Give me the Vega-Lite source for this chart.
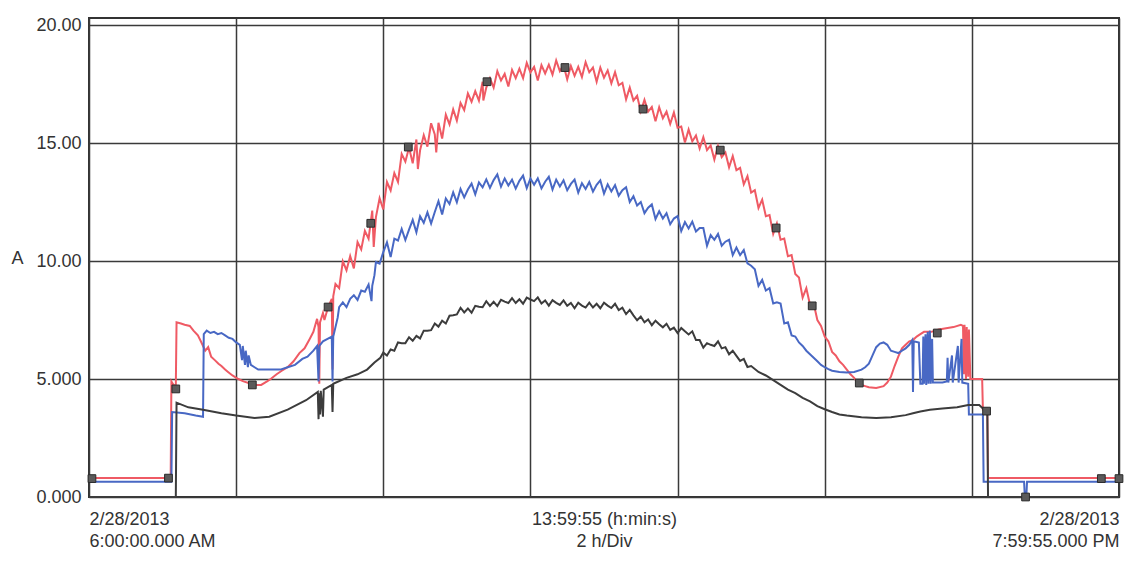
{
"$schema": "https://vega.github.io/schema/vega-lite/v6.json",
"width": 1030,
"height": 479,
"autosize": "none",
"padding": {"left": 89, "top": 18, "right": 5, "bottom": 66},
"background": "white",
"config": {"view": {"stroke": "#333333", "strokeWidth": 2}, "font": "Liberation Sans"},
"datasets": {
"lines": [
{"h":6.0,"v":0.8,"s":"L1"},{"h":7.11,"v":0.8,"s":"L1"},{"h":7.12,"v":4.9,"s":"L1"},{"h":7.15,"v":4.75,"s":"L1"},{"h":7.18,"v":4.7,"s":"L1"},{"h":7.19,"v":7.4,"s":"L1"},{"h":7.25,"v":7.35,"s":"L1"},{"h":7.3,"v":7.3,"s":"L1"},{"h":7.37,"v":7.25,"s":"L1"},{"h":7.42,"v":7.05,"s":"L1"},{"h":7.48,"v":6.85,"s":"L1"},{"h":7.52,"v":6.6,"s":"L1"},{"h":7.58,"v":6.2,"s":"L1"},{"h":7.62,"v":6.35,"s":"L1"},{"h":7.66,"v":5.95,"s":"L1"},{"h":7.71,"v":5.8,"s":"L1"},{"h":7.76,"v":5.65,"s":"L1"},{"h":7.8,"v":5.55,"s":"L1"},{"h":7.85,"v":5.4,"s":"L1"},{"h":7.89,"v":5.3,"s":"L1"},{"h":7.95,"v":5.15,"s":"L1"},{"h":8.03,"v":5.0,"s":"L1"},{"h":8.1,"v":4.9,"s":"L1"},{"h":8.2,"v":4.8,"s":"L1"},{"h":8.28,"v":4.75,"s":"L1"},{"h":8.34,"v":4.75,"s":"L1"},{"h":8.42,"v":4.9,"s":"L1"},{"h":8.47,"v":5.0,"s":"L1"},{"h":8.55,"v":5.2,"s":"L1"},{"h":8.62,"v":5.35,"s":"L1"},{"h":8.7,"v":5.5,"s":"L1"},{"h":8.78,"v":5.75,"s":"L1"},{"h":8.86,"v":6.1,"s":"L1"},{"h":8.93,"v":6.3,"s":"L1"},{"h":9.0,"v":6.7,"s":"L1"},{"h":9.05,"v":7.0,"s":"L1"},{"h":9.1,"v":7.55,"s":"L1"},{"h":9.12,"v":7.2,"s":"L1"},{"h":9.13,"v":4.8,"s":"L1"},{"h":9.14,"v":7.4,"s":"L1"},{"h":9.18,"v":7.8,"s":"L1"},{"h":9.2,"v":7.5,"s":"L1"},{"h":9.25,"v":8.05,"s":"L1"},{"h":9.3,"v":8.4,"s":"L1"},{"h":9.31,"v":5.4,"s":"L1"},{"h":9.32,"v":8.5,"s":"L1"},
{"h":9.35,"v":9.03,"s":"L1"},{"h":9.4,"v":8.85,"s":"L1"},{"h":9.45,"v":9.99,"s":"L1"},{"h":9.5,"v":9.61,"s":"L1"},{"h":9.55,"v":10.21,"s":"L1"},{"h":9.6,"v":9.69,"s":"L1"},{"h":9.65,"v":10.8,"s":"L1"},{"h":9.7,"v":10.49,"s":"L1"},{"h":9.75,"v":11.28,"s":"L1"},{"h":9.8,"v":10.95,"s":"L1"},{"h":9.85,"v":12.14,"s":"L1"},{"h":9.87,"v":10.6,"s":"L1"},{"h":9.9,"v":11.86,"s":"L1"},{"h":9.95,"v":12.66,"s":"L1"},{"h":10.0,"v":12.19,"s":"L1"},{"h":10.05,"v":13.35,"s":"L1"},{"h":10.1,"v":12.99,"s":"L1"},{"h":10.15,"v":13.73,"s":"L1"},{"h":10.2,"v":13.35,"s":"L1"},{"h":10.25,"v":14.54,"s":"L1"},{"h":10.3,"v":14.21,"s":"L1"},{"h":10.35,"v":14.81,"s":"L1"},{"h":10.4,"v":14.14,"s":"L1"},{"h":10.45,"v":15.15,"s":"L1"},{"h":10.47,"v":13.9,"s":"L1"},{"h":10.5,"v":14.69,"s":"L1"},{"h":10.55,"v":15.33,"s":"L1"},{"h":10.6,"v":14.85,"s":"L1"},{"h":10.65,"v":15.84,"s":"L1"},{"h":10.7,"v":15.36,"s":"L1"},{"h":10.72,"v":14.6,"s":"L1"},{"h":10.75,"v":15.86,"s":"L1"},{"h":10.8,"v":15.19,"s":"L1"},{"h":10.85,"v":16.2,"s":"L1"},{"h":10.9,"v":15.79,"s":"L1"},{"h":10.95,"v":16.43,"s":"L1"},{"h":11.0,"v":15.95,"s":"L1"},
{"h":11.05,"v":16.7,"s":"L1"},{"h":11.1,"v":16.4,"s":"L1"},{"h":11.15,"v":17.1,"s":"L1"},{"h":11.2,"v":16.75,"s":"L1"},{"h":11.25,"v":17.2,"s":"L1"},{"h":11.3,"v":16.8,"s":"L1"},{"h":11.35,"v":17.6,"s":"L1"},{"h":11.36,"v":16.8,"s":"L1"},{"h":11.4,"v":17.35,"s":"L1"},{"h":11.45,"v":17.75,"s":"L1"},{"h":11.5,"v":17.35,"s":"L1"},{"h":11.55,"v":18.05,"s":"L1"},{"h":11.6,"v":17.65,"s":"L1"},{"h":11.65,"v":17.93,"s":"L1"},{"h":11.7,"v":17.4,"s":"L1"},{"h":11.75,"v":18.1,"s":"L1"},{"h":11.8,"v":17.75,"s":"L1"},{"h":11.85,"v":18.15,"s":"L1"},{"h":11.9,"v":17.75,"s":"L1"},{"h":11.95,"v":18.4,"s":"L1"},{"h":12.0,"v":18.0,"s":"L1"},{"h":12.05,"v":18.23,"s":"L1"},{"h":12.1,"v":17.65,"s":"L1"},{"h":12.15,"v":18.3,"s":"L1"},{"h":12.2,"v":17.95,"s":"L1"},{"h":12.25,"v":18.32,"s":"L1"},{"h":12.3,"v":17.9,"s":"L1"},{"h":12.35,"v":18.5,"s":"L1"},{"h":12.4,"v":18.05,"s":"L1"},{"h":12.45,"v":18.3,"s":"L1"},{"h":12.5,"v":17.7,"s":"L1"},{"h":12.55,"v":18.27,"s":"L1"},{"h":12.6,"v":17.85,"s":"L1"},{"h":12.65,"v":18.23,"s":"L1"},{"h":12.7,"v":17.8,"s":"L1"},{"h":12.75,"v":18.43,"s":"L1"},{"h":12.8,"v":18.0,"s":"L1"},{"h":12.85,"v":18.2,"s":"L1"},{"h":12.9,"v":17.6,"s":"L1"},{"h":12.95,"v":18.2,"s":"L1"},{"h":13.0,"v":17.77,"s":"L1"},{"h":13.05,"v":18.08,"s":"L1"},{"h":13.1,"v":17.53,"s":"L1"},{"h":13.15,"v":18.0,"s":"L1"},{"h":13.2,"v":17.45,"s":"L1"},{"h":13.25,"v":17.55,"s":"L1"},{"h":13.3,"v":16.85,"s":"L1"},{"h":13.35,"v":17.35,"s":"L1"},{"h":13.4,"v":16.8,"s":"L1"},{"h":13.45,"v":17.0,"s":"L1"},{"h":13.5,"v":16.35,"s":"L1"},{"h":13.55,"v":16.83,"s":"L1"},{"h":13.6,"v":16.33,"s":"L1"},{"h":13.65,"v":16.53,"s":"L1"},{"h":13.7,"v":15.92,"s":"L1"},{"h":13.75,"v":16.52,"s":"L1"},{"h":13.8,"v":16.05,"s":"L1"},{"h":13.85,"v":16.33,"s":"L1"},{"h":13.9,"v":15.81,"s":"L1"},{"h":13.95,"v":16.3,"s":"L1"},{"h":14.0,"v":15.65,"s":"L1"},{"h":14.05,"v":15.7,"s":"L1"},{"h":14.1,"v":15.02,"s":"L1"},{"h":14.15,"v":15.57,"s":"L1"},{"h":14.2,"v":15.07,"s":"L1"},{"h":14.25,"v":15.32,"s":"L1"},{"h":14.3,"v":14.77,"s":"L1"},{"h":14.35,"v":15.25,"s":"L1"},{"h":14.4,"v":14.7,"s":"L1"},{"h":14.45,"v":14.9,"s":"L1"},{"h":14.5,"v":14.3,"s":"L1"},{"h":14.55,"v":14.88,"s":"L1"},{"h":14.6,"v":14.4,"s":"L1"},{"h":14.65,"v":14.6,"s":"L1"},{"h":14.7,"v":13.97,"s":"L1"},{"h":14.75,"v":14.45,"s":"L1"},{"h":14.8,"v":13.85,"s":"L1"},{"h":14.85,"v":13.95,"s":"L1"},{"h":14.9,"v":13.25,"s":"L1"},{"h":14.95,"v":13.6,"s":"L1"},{"h":15.0,"v":12.9,"s":"L1"},{"h":15.05,"v":13.0,"s":"L1"},{"h":15.1,"v":12.25,"s":"L1"},{"h":15.15,"v":12.6,"s":"L1"},{"h":15.2,"v":11.9,"s":"L1"},{"h":15.25,"v":11.95,"s":"L1"},{"h":15.3,"v":11.15,"s":"L1"},{"h":15.35,"v":11.6,"s":"L1"},{"h":15.4,"v":10.9,"s":"L1"},{"h":15.45,"v":10.95,"s":"L1"},{"h":15.5,"v":10.2,"s":"L1"},{"h":15.55,"v":10.25,"s":"L1"},{"h":15.6,"v":9.45,"s":"L1"},{"h":15.65,"v":9.3,"s":"L1"},{"h":15.7,"v":8.45,"s":"L1"},{"h":15.75,"v":8.85,"s":"L1"},{"h":15.8,"v":8.15,"s":"L1"},{"h":15.85,"v":8.2,"s":"L1"},
{"h":15.9,"v":7.5,"s":"L1"},{"h":15.95,"v":7.25,"s":"L1"},{"h":16.0,"v":6.8,"s":"L1"},{"h":16.05,"v":6.6,"s":"L1"},{"h":16.1,"v":6.15,"s":"L1"},{"h":16.15,"v":6.0,"s":"L1"},{"h":16.2,"v":5.75,"s":"L1"},{"h":16.25,"v":5.6,"s":"L1"},{"h":16.3,"v":5.4,"s":"L1"},{"h":16.35,"v":5.2,"s":"L1"},{"h":16.4,"v":5.05,"s":"L1"},{"h":16.45,"v":4.85,"s":"L1"},{"h":16.5,"v":4.75,"s":"L1"},{"h":16.55,"v":4.7,"s":"L1"},{"h":16.6,"v":4.65,"s":"L1"},{"h":16.7,"v":4.62,"s":"L1"},{"h":16.8,"v":4.7,"s":"L1"},{"h":16.85,"v":4.85,"s":"L1"},{"h":16.9,"v":5.1,"s":"L1"},{"h":16.95,"v":5.55,"s":"L1"},{"h":17.0,"v":5.95,"s":"L1"},{"h":17.05,"v":6.3,"s":"L1"},{"h":17.1,"v":6.45,"s":"L1"},{"h":17.15,"v":6.6,"s":"L1"},{"h":17.2,"v":6.65,"s":"L1"},{"h":17.25,"v":6.8,"s":"L1"},{"h":17.3,"v":6.9,"s":"L1"},{"h":17.35,"v":7.0,"s":"L1"},{"h":17.45,"v":7.0,"s":"L1"},{"h":17.55,"v":7.1,"s":"L1"},{"h":17.65,"v":7.15,"s":"L1"},{"h":17.75,"v":7.2,"s":"L1"},{"h":17.85,"v":7.3,"s":"L1"},{"h":17.88,"v":7.25,"s":"L1"},{"h":17.89,"v":5.2,"s":"L1"},{"h":17.9,"v":7.3,"s":"L1"},{"h":17.92,"v":5.0,"s":"L1"},{"h":17.93,"v":7.2,"s":"L1"},{"h":17.95,"v":5.1,"s":"L1"},{"h":17.96,"v":7.1,"s":"L1"},{"h":17.98,"v":5.0,"s":"L1"},{"h":18.14,"v":5.0,"s":"L1"},{"h":18.15,"v":3.7,"s":"L1"},{"h":18.21,"v":3.65,"s":"L1"},{"h":18.22,"v":0.8,"s":"L1"},{"h":20.0,"v":0.8,"s":"L1"},

{"h":6.0,"v":0.65,"s":"L2"},{"h":7.12,"v":0.65,"s":"L2"},{"h":7.13,"v":3.6,"s":"L2"},{"h":7.3,"v":3.55,"s":"L2"},{"h":7.45,"v":3.45,"s":"L2"},{"h":7.55,"v":3.4,"s":"L2"},{"h":7.56,"v":6.9,"s":"L2"},{"h":7.6,"v":7.05,"s":"L2"},{"h":7.65,"v":6.95,"s":"L2"},{"h":7.7,"v":7.0,"s":"L2"},{"h":7.75,"v":6.9,"s":"L2"},{"h":7.8,"v":6.95,"s":"L2"},{"h":7.85,"v":6.85,"s":"L2"},{"h":7.9,"v":6.75,"s":"L2"},{"h":7.95,"v":6.7,"s":"L2"},{"h":8.0,"v":6.55,"s":"L2"},{"h":8.05,"v":6.45,"s":"L2"},{"h":8.08,"v":5.8,"s":"L2"},{"h":8.09,"v":6.4,"s":"L2"},{"h":8.12,"v":5.6,"s":"L2"},{"h":8.13,"v":6.2,"s":"L2"},{"h":8.16,"v":5.5,"s":"L2"},{"h":8.17,"v":6.0,"s":"L2"},{"h":8.2,"v":5.6,"s":"L2"},{"h":8.25,"v":5.5,"s":"L2"},{"h":8.3,"v":5.4,"s":"L2"},{"h":8.4,"v":5.4,"s":"L2"},{"h":8.5,"v":5.4,"s":"L2"},{"h":8.6,"v":5.4,"s":"L2"},{"h":8.7,"v":5.5,"s":"L2"},{"h":8.8,"v":5.6,"s":"L2"},{"h":8.9,"v":5.85,"s":"L2"},{"h":8.97,"v":5.95,"s":"L2"},{"h":9.05,"v":6.2,"s":"L2"},{"h":9.1,"v":6.4,"s":"L2"},{"h":9.12,"v":4.9,"s":"L2"},{"h":9.13,"v":6.4,"s":"L2"},{"h":9.18,"v":6.6,"s":"L2"},{"h":9.3,"v":6.8,"s":"L2"},{"h":9.31,"v":4.9,"s":"L2"},{"h":9.32,"v":6.8,"s":"L2"},{"h":9.38,"v":7.6,"s":"L2"},{"h":9.4,"v":8.05,"s":"L2"},{"h":9.45,"v":8.25,"s":"L2"},{"h":9.5,"v":8.05,"s":"L2"},{"h":9.55,"v":8.4,"s":"L2"},{"h":9.6,"v":8.55,"s":"L2"},{"h":9.65,"v":8.35,"s":"L2"},{"h":9.7,"v":8.75,"s":"L2"},{"h":9.75,"v":8.7,"s":"L2"},{"h":9.8,"v":9.0,"s":"L2"},{"h":9.84,"v":8.3,"s":"L2"},{"h":9.85,"v":8.95,"s":"L2"},{"h":9.88,"v":9.4,"s":"L2"},
{"h":9.9,"v":9.96,"s":"L2"},{"h":9.95,"v":9.89,"s":"L2"},{"h":10.0,"v":10.38,"s":"L2"},{"h":10.05,"v":10.79,"s":"L2"},{"h":10.1,"v":10.17,"s":"L2"},{"h":10.15,"v":10.95,"s":"L2"},{"h":10.2,"v":10.87,"s":"L2"},{"h":10.25,"v":11.36,"s":"L2"},{"h":10.3,"v":10.89,"s":"L2"},{"h":10.35,"v":11.33,"s":"L2"},{"h":10.4,"v":11.74,"s":"L2"},{"h":10.45,"v":11.22,"s":"L2"},{"h":10.5,"v":11.9,"s":"L2"},{"h":10.55,"v":11.62,"s":"L2"},{"h":10.6,"v":12.06,"s":"L2"},{"h":10.65,"v":11.59,"s":"L2"},{"h":10.7,"v":12.08,"s":"L2"},{"h":10.75,"v":12.54,"s":"L2"},{"h":10.8,"v":11.97,"s":"L2"},{"h":10.85,"v":12.65,"s":"L2"},{"h":10.9,"v":12.42,"s":"L2"},{"h":10.95,"v":12.91,"s":"L2"},{"h":11.0,"v":12.49,"s":"L2"},{"h":11.05,"v":13.05,"s":"L2"},{"h":11.1,"v":12.7,"s":"L2"},{"h":11.15,"v":13.03,"s":"L2"},{"h":11.2,"v":13.28,"s":"L2"},{"h":11.25,"v":12.83,"s":"L2"},{"h":11.3,"v":13.33,"s":"L2"},{"h":11.35,"v":13.12,"s":"L2"},{"h":11.4,"v":13.46,"s":"L2"},{"h":11.45,"v":13.1,"s":"L2"},{"h":11.5,"v":13.43,"s":"L2"},{"h":11.55,"v":13.67,"s":"L2"},{"h":11.6,"v":13.15,"s":"L2"},{"h":11.65,"v":13.5,"s":"L2"},{"h":11.7,"v":13.2,"s":"L2"},{"h":11.75,"v":13.45,"s":"L2"},{"h":11.8,"v":13.07,"s":"L2"},{"h":11.85,"v":13.4,"s":"L2"},{"h":11.9,"v":13.62,"s":"L2"},{"h":11.95,"v":13.09,"s":"L2"},{"h":12.0,"v":13.5,"s":"L2"},{"h":12.05,"v":13.23,"s":"L2"},{"h":12.1,"v":13.5,"s":"L2"},{"h":12.15,"v":13.08,"s":"L2"},{"h":12.2,"v":13.36,"s":"L2"},{"h":12.25,"v":13.57,"s":"L2"},{"h":12.3,"v":13.03,"s":"L2"},{"h":12.35,"v":13.45,"s":"L2"},{"h":12.4,"v":13.16,"s":"L2"},{"h":12.45,"v":13.42,"s":"L2"},{"h":12.5,"v":13.0,"s":"L2"},{"h":12.55,"v":13.27,"s":"L2"},{"h":12.6,"v":13.45,"s":"L2"},{"h":12.65,"v":12.9,"s":"L2"},{"h":12.7,"v":13.3,"s":"L2"},{"h":12.75,"v":13.05,"s":"L2"},{"h":12.8,"v":13.35,"s":"L2"},{"h":12.85,"v":12.94,"s":"L2"},{"h":12.9,"v":13.23,"s":"L2"},{"h":12.95,"v":13.42,"s":"L2"},{"h":13.0,"v":12.86,"s":"L2"},{"h":13.05,"v":13.25,"s":"L2"},{"h":13.1,"v":12.95,"s":"L2"},{"h":13.15,"v":13.22,"s":"L2"},{"h":13.2,"v":12.77,"s":"L2"},{"h":13.25,"v":13.0,"s":"L2"},{"h":13.3,"v":13.13,"s":"L2"},{"h":13.35,"v":12.5,"s":"L2"},{"h":13.4,"v":12.75,"s":"L2"},{"h":13.45,"v":12.35,"s":"L2"},{"h":13.5,"v":12.5,"s":"L2"},{"h":13.55,"v":12.03,"s":"L2"},{"h":13.6,"v":12.26,"s":"L2"},{"h":13.65,"v":12.4,"s":"L2"},{"h":13.7,"v":11.78,"s":"L2"},{"h":13.75,"v":12.11,"s":"L2"},{"h":13.8,"v":11.8,"s":"L2"},{"h":13.85,"v":12.03,"s":"L2"},{"h":13.9,"v":11.56,"s":"L2"},{"h":13.95,"v":11.8,"s":"L2"},{"h":14.0,"v":11.9,"s":"L2"},{"h":14.05,"v":11.27,"s":"L2"},{"h":14.1,"v":11.65,"s":"L2"},{"h":14.15,"v":11.38,"s":"L2"},{"h":14.2,"v":11.67,"s":"L2"},{"h":14.25,"v":11.25,"s":"L2"},{"h":14.3,"v":11.4,"s":"L2"},{"h":14.35,"v":11.4,"s":"L2"},{"h":14.4,"v":10.65,"s":"L2"},{"h":14.45,"v":11.1,"s":"L2"},{"h":14.5,"v":10.9,"s":"L2"},{"h":14.55,"v":11.15,"s":"L2"},{"h":14.6,"v":10.65,"s":"L2"},{"h":14.65,"v":10.82,"s":"L2"},{"h":14.7,"v":10.9,"s":"L2"},{"h":14.75,"v":10.25,"s":"L2"},{"h":14.8,"v":10.57,"s":"L2"},{"h":14.85,"v":10.25,"s":"L2"},{"h":14.9,"v":10.47,"s":"L2"},{"h":14.95,"v":9.9,"s":"L2"},{"h":15.0,"v":9.8,"s":"L2"},{"h":15.05,"v":9.65,"s":"L2"},{"h":15.1,"v":8.95,"s":"L2"},{"h":15.15,"v":9.2,"s":"L2"},{"h":15.2,"v":8.75,"s":"L2"},{"h":15.25,"v":8.85,"s":"L2"},{"h":15.3,"v":8.2,"s":"L2"},{"h":15.35,"v":8.25,"s":"L2"},{"h":15.4,"v":8.2,"s":"L2"},{"h":15.45,"v":7.35,"s":"L2"},{"h":15.5,"v":7.4,"s":"L2"},{"h":15.55,"v":6.85,"s":"L2"},{"h":15.6,"v":6.8,"s":"L2"},
{"h":15.65,"v":6.55,"s":"L2"},{"h":15.7,"v":6.4,"s":"L2"},{"h":15.75,"v":6.2,"s":"L2"},{"h":15.8,"v":6.05,"s":"L2"},{"h":15.85,"v":5.9,"s":"L2"},{"h":15.9,"v":5.75,"s":"L2"},{"h":15.95,"v":5.6,"s":"L2"},{"h":16.0,"v":5.5,"s":"L2"},{"h":16.05,"v":5.42,"s":"L2"},{"h":16.1,"v":5.35,"s":"L2"},{"h":16.2,"v":5.3,"s":"L2"},{"h":16.3,"v":5.28,"s":"L2"},{"h":16.4,"v":5.3,"s":"L2"},{"h":16.5,"v":5.4,"s":"L2"},{"h":16.55,"v":5.5,"s":"L2"},{"h":16.6,"v":5.65,"s":"L2"},{"h":16.65,"v":6.0,"s":"L2"},{"h":16.7,"v":6.35,"s":"L2"},{"h":16.75,"v":6.5,"s":"L2"},{"h":16.8,"v":6.55,"s":"L2"},{"h":16.85,"v":6.45,"s":"L2"},{"h":16.9,"v":6.2,"s":"L2"},{"h":16.95,"v":6.15,"s":"L2"},{"h":17.0,"v":6.1,"s":"L2"},{"h":17.05,"v":6.2,"s":"L2"},{"h":17.1,"v":6.3,"s":"L2"},{"h":17.15,"v":6.45,"s":"L2"},{"h":17.19,"v":6.65,"s":"L2"},{"h":17.2,"v":4.45,"s":"L2"},{"h":17.21,"v":6.6,"s":"L2"},{"h":17.28,"v":6.55,"s":"L2"},{"h":17.3,"v":4.8,"s":"L2"},{"h":17.33,"v":4.8,"s":"L2"},{"h":17.34,"v":6.8,"s":"L2"},{"h":17.35,"v":4.8,"s":"L2"},{"h":17.37,"v":6.9,"s":"L2"},{"h":17.38,"v":4.75,"s":"L2"},{"h":17.4,"v":7.0,"s":"L2"},{"h":17.41,"v":4.8,"s":"L2"},{"h":17.43,"v":7.05,"s":"L2"},{"h":17.44,"v":4.8,"s":"L2"},{"h":17.46,"v":6.7,"s":"L2"},{"h":17.47,"v":4.85,"s":"L2"},{"h":17.6,"v":4.85,"s":"L2"},{"h":17.66,"v":4.9,"s":"L2"},{"h":17.67,"v":5.9,"s":"L2"},{"h":17.68,"v":4.85,"s":"L2"},{"h":17.73,"v":6.0,"s":"L2"},{"h":17.74,"v":4.85,"s":"L2"},{"h":17.81,"v":6.4,"s":"L2"},{"h":17.82,"v":4.85,"s":"L2"},{"h":17.86,"v":6.7,"s":"L2"},{"h":17.87,"v":4.85,"s":"L2"},{"h":17.95,"v":4.8,"s":"L2"},{"h":17.96,"v":3.5,"s":"L2"},{"h":18.15,"v":3.5,"s":"L2"},{"h":18.16,"v":0.65,"s":"L2"},{"h":18.71,"v":0.65,"s":"L2"},{"h":18.72,"v":0.0,"s":"L2"},{"h":18.74,"v":0.0,"s":"L2"},{"h":18.75,"v":0.65,"s":"L2"},{"h":20.0,"v":0.65,"s":"L2"},

{"h":6.0,"v":0.0,"s":"L3"},{"h":7.18,"v":0.0,"s":"L3"},{"h":7.19,"v":4.0,"s":"L3"},{"h":7.35,"v":3.8,"s":"L3"},{"h":7.55,"v":3.7,"s":"L3"},{"h":7.8,"v":3.55,"s":"L3"},{"h":8.0,"v":3.45,"s":"L3"},{"h":8.25,"v":3.35,"s":"L3"},{"h":8.45,"v":3.4,"s":"L3"},{"h":8.7,"v":3.7,"s":"L3"},{"h":8.95,"v":4.1,"s":"L3"},{"h":9.11,"v":4.45,"s":"L3"},{"h":9.12,"v":3.3,"s":"L3"},{"h":9.13,"v":4.4,"s":"L3"},{"h":9.14,"v":3.5,"s":"L3"},{"h":9.15,"v":4.5,"s":"L3"},{"h":9.18,"v":3.4,"s":"L3"},{"h":9.19,"v":4.55,"s":"L3"},{"h":9.3,"v":4.75,"s":"L3"},{"h":9.31,"v":3.6,"s":"L3"},{"h":9.32,"v":4.8,"s":"L3"},{"h":9.5,"v":5.05,"s":"L3"},{"h":9.65,"v":5.2,"s":"L3"},{"h":9.78,"v":5.4,"s":"L3"},{"h":9.88,"v":5.7,"s":"L3"},{"h":9.96,"v":5.9,"s":"L3"},
{"h":10.0,"v":6.12,"s":"L3"},{"h":10.05,"v":6.0,"s":"L3"},{"h":10.1,"v":6.25,"s":"L3"},{"h":10.15,"v":6.2,"s":"L3"},{"h":10.2,"v":6.55,"s":"L3"},{"h":10.25,"v":6.52,"s":"L3"},{"h":10.3,"v":6.52,"s":"L3"},{"h":10.35,"v":6.77,"s":"L3"},{"h":10.4,"v":6.62,"s":"L3"},{"h":10.45,"v":6.83,"s":"L3"},{"h":10.5,"v":6.72,"s":"L3"},{"h":10.55,"v":7.05,"s":"L3"},{"h":10.6,"v":7.05,"s":"L3"},{"h":10.65,"v":7.07,"s":"L3"},{"h":10.7,"v":7.35,"s":"L3"},{"h":10.75,"v":7.22,"s":"L3"},{"h":10.8,"v":7.47,"s":"L3"},{"h":10.85,"v":7.35,"s":"L3"},{"h":10.9,"v":7.68,"s":"L3"},{"h":10.95,"v":7.7,"s":"L3"},{"h":11.0,"v":7.74,"s":"L3"},{"h":11.05,"v":8.02,"s":"L3"},{"h":11.1,"v":7.82,"s":"L3"},{"h":11.15,"v":7.99,"s":"L3"},{"h":11.2,"v":7.81,"s":"L3"},{"h":11.25,"v":8.1,"s":"L3"},{"h":11.3,"v":8.06,"s":"L3"},{"h":11.35,"v":8.04,"s":"L3"},{"h":11.4,"v":8.3,"s":"L3"},{"h":11.45,"v":8.1,"s":"L3"},{"h":11.5,"v":8.27,"s":"L3"},{"h":11.55,"v":8.09,"s":"L3"},{"h":11.6,"v":8.36,"s":"L3"},{"h":11.65,"v":8.28,"s":"L3"},{"h":11.7,"v":8.22,"s":"L3"},{"h":11.75,"v":8.43,"s":"L3"},{"h":11.8,"v":8.22,"s":"L3"},{"h":11.85,"v":8.38,"s":"L3"},{"h":11.9,"v":8.19,"s":"L3"},{"h":11.95,"v":8.45,"s":"L3"},{"h":12.0,"v":8.37,"s":"L3"},{"h":12.05,"v":8.3,"s":"L3"},{"h":12.1,"v":8.46,"s":"L3"},{"h":12.15,"v":8.2,"s":"L3"},{"h":12.2,"v":8.33,"s":"L3"},{"h":12.25,"v":8.11,"s":"L3"},{"h":12.3,"v":8.34,"s":"L3"},{"h":12.35,"v":8.23,"s":"L3"},{"h":12.4,"v":8.14,"s":"L3"},{"h":12.45,"v":8.33,"s":"L3"},{"h":12.5,"v":8.1,"s":"L3"},{"h":12.55,"v":8.22,"s":"L3"},{"h":12.6,"v":8.0,"s":"L3"},{"h":12.65,"v":8.23,"s":"L3"},{"h":12.7,"v":8.11,"s":"L3"},{"h":12.75,"v":8.03,"s":"L3"},{"h":12.8,"v":8.24,"s":"L3"},{"h":12.85,"v":8.03,"s":"L3"},{"h":12.9,"v":8.19,"s":"L3"},{"h":12.95,"v":8.0,"s":"L3"},{"h":13.0,"v":8.23,"s":"L3"},{"h":13.05,"v":8.11,"s":"L3"},{"h":13.1,"v":8.01,"s":"L3"},{"h":13.15,"v":8.19,"s":"L3"},{"h":13.2,"v":7.92,"s":"L3"},{"h":13.25,"v":8.02,"s":"L3"},{"h":13.3,"v":7.75,"s":"L3"},{"h":13.35,"v":7.93,"s":"L3"},{"h":13.4,"v":7.7,"s":"L3"},{"h":13.45,"v":7.49,"s":"L3"},{"h":13.5,"v":7.65,"s":"L3"},{"h":13.55,"v":7.4,"s":"L3"},{"h":13.6,"v":7.52,"s":"L3"},{"h":13.65,"v":7.28,"s":"L3"},{"h":13.7,"v":7.47,"s":"L3"},{"h":13.75,"v":7.32,"s":"L3"},{"h":13.8,"v":7.19,"s":"L3"},{"h":13.85,"v":7.34,"s":"L3"},{"h":13.9,"v":7.08,"s":"L3"},{"h":13.95,"v":7.18,"s":"L3"},{"h":14.0,"v":6.95,"s":"L3"},{"h":14.05,"v":7.16,"s":"L3"},{"h":14.1,"v":7.02,"s":"L3"},{"h":14.15,"v":6.89,"s":"L3"},{"h":14.2,"v":7.02,"s":"L3"},{"h":14.25,"v":6.65,"s":"L3"},{"h":14.3,"v":6.65,"s":"L3"},{"h":14.35,"v":6.33,"s":"L3"},{"h":14.4,"v":6.52,"s":"L3"},{"h":14.45,"v":6.45,"s":"L3"},{"h":14.5,"v":6.4,"s":"L3"},{"h":14.55,"v":6.6,"s":"L3"},{"h":14.6,"v":6.3,"s":"L3"},{"h":14.65,"v":6.35,"s":"L3"},{"h":14.7,"v":6.05,"s":"L3"},{"h":14.75,"v":6.2,"s":"L3"},{"h":14.8,"v":5.98,"s":"L3"},{"h":14.85,"v":5.77,"s":"L3"},{"h":14.9,"v":5.85,"s":"L3"},{"h":14.95,"v":5.51,"s":"L3"},{"h":15.0,"v":5.55,"s":"L3"},
{"h":15.1,"v":5.3,"s":"L3"},{"h":15.2,"v":5.15,"s":"L3"},{"h":15.3,"v":4.95,"s":"L3"},{"h":15.4,"v":4.75,"s":"L3"},{"h":15.5,"v":4.55,"s":"L3"},{"h":15.6,"v":4.4,"s":"L3"},{"h":15.7,"v":4.2,"s":"L3"},{"h":15.8,"v":4.05,"s":"L3"},{"h":15.9,"v":3.85,"s":"L3"},{"h":16.0,"v":3.72,"s":"L3"},{"h":16.1,"v":3.6,"s":"L3"},{"h":16.2,"v":3.5,"s":"L3"},{"h":16.3,"v":3.45,"s":"L3"},{"h":16.5,"v":3.38,"s":"L3"},{"h":16.7,"v":3.35,"s":"L3"},{"h":16.9,"v":3.38,"s":"L3"},{"h":17.1,"v":3.47,"s":"L3"},{"h":17.2,"v":3.55,"s":"L3"},{"h":17.3,"v":3.62,"s":"L3"},{"h":17.43,"v":3.7,"s":"L3"},{"h":17.6,"v":3.75,"s":"L3"},{"h":17.8,"v":3.8,"s":"L3"},{"h":17.95,"v":3.9,"s":"L3"},{"h":18.1,"v":3.9,"s":"L3"},{"h":18.15,"v":3.75,"s":"L3"},{"h":18.21,"v":3.75,"s":"L3"},{"h":18.22,"v":0.0,"s":"L3"},{"h":20.0,"v":0.0,"s":"L3"}
],
"marks": [
{"h":6.04,"v":0.78},{"h":7.08,"v":0.8},{"h":7.18,"v":4.58},{"h":8.22,"v":4.75},{"h":9.25,"v":8.05},{"h":9.83,"v":11.6},{"h":10.34,"v":14.83},{"h":11.41,"v":17.6},{"h":12.47,"v":18.2},{"h":13.53,"v":16.44},{"h":14.58,"v":14.7},{"h":15.34,"v":11.4},{"h":15.83,"v":8.1},{"h":16.47,"v":4.83},{"h":17.53,"v":6.95},{"h":18.2,"v":3.64},{"h":18.73,"v":0.0},{"h":19.76,"v":0.78},{"h":20.0,"v":0.78}
]
},
"layer": [
{
"data": {"name": "lines"},
"mark": {"type": "line", "interpolate": "linear", "strokeWidth": 2},
"encoding": {
"x": {"field": "h", "type": "quantitative", "scale": {"domain": [6, 20], "nice": false, "zero": false},
"axis": {"values": [6, 8, 10, 12, 13, 14, 16, 18, 20], "title": null, "grid": true, "gridColor": "#3a3a3a", "gridWidth": 1.5,
"gridOpacity": {"condition": {"test": "datum.value == 13", "value": 0}, "value": 1},
"ticks": false, "domain": false, "labelFlush": true, "labelOverlap": false, "labelFontSize": 18, "labelColor": "#333333",
"labelPadding": 13, "labelBaseline": "top", "labelLineHeight": 22,
"labelExpr": "datum.value == 6 ? ['2/28/2013', '6:00:00.000 AM'] : datum.value == 13 ? ['13:59:55 (h:min:s)', '2 h/Div'] : datum.value == 20 ? ['2/28/2013', '7:59:55.000 PM'] : ''"}},
"y": {"field": "v", "type": "quantitative", "scale": {"domain": [0, 20.3], "nice": false, "zero": true},
"axis": {"values": [0, 5, 10, 15, 20], "grid": true, "gridColor": "#3a3a3a", "gridWidth": 1.5, "ticks": false, "domain": false,
"labelFontSize": 18, "labelColor": "#333333", "labelPadding": 8,
"labelExpr": "datum.value >= 10 ? format(datum.value, '.2f') : format(datum.value, '.3f')",
"title": "A", "titleAngle": 0, "titleFontSize": 18, "titleFontWeight": "normal", "titleColor": "#333333",
"titleX": -72, "titleY": 240, "titleAlign": "center", "titleBaseline": "middle"}},
"color": {"field": "s", "type": "nominal", "scale": {"domain": ["L1", "L2", "L3"], "range": ["#ef5a64", "#4868c4", "#3c3c3c"]}, "legend": null}
}
},
{
"data": {"name": "marks"},
"mark": {"type": "square", "size": 60, "filled": true, "color": "#5a5a5a", "stroke": "#2a2a2a", "strokeWidth": 1, "opacity": 1, "clip": false},
"encoding": {
"x": {"field": "h", "type": "quantitative"},
"y": {"field": "v", "type": "quantitative"}
}
}
]
}
